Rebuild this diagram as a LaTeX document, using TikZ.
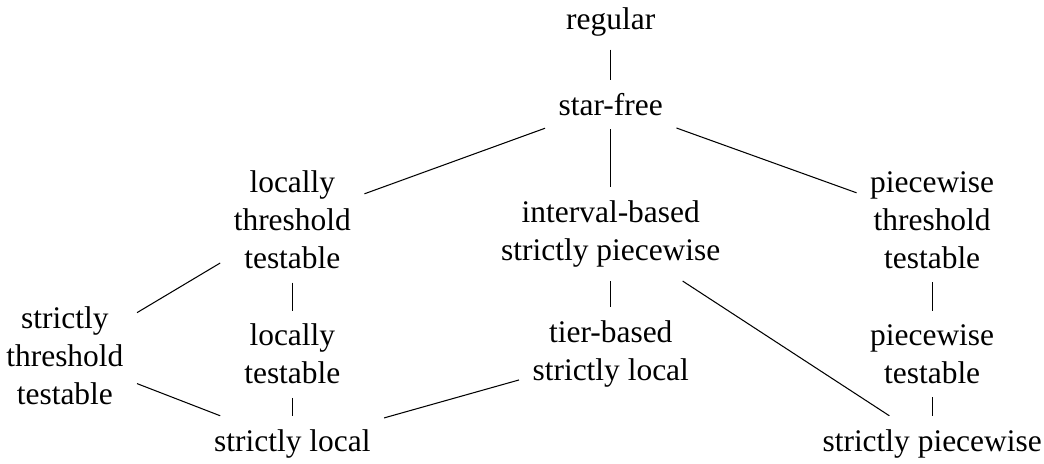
\documentclass[tikz,border=0pt]{standalone}
\usepackage{fontspec}
\setmainfont{Liberation Serif}
\tikzset{cls/.style={align=center, inner sep=5pt, font=\fontsize{12pt}{14.5pt}\selectfont}}
\begin{document}
\begin{tikzpicture}
\useasboundingbox (0,0) rectangle (14,-6.22);
\node[cls] (reg) at (8.19,-0.29) {regular};
\node[cls] (sf) at (8.19,-1.40) {star-free};
\node[cls] (ltt) at (3.92,-2.95) {locally\\threshold\\testable};
\node[cls] (ibsp) at (8.19,-3.14) {interval-based\\strictly piecewise};
\node[cls] (ptt) at (12.50,-2.95) {piecewise\\threshold\\testable};
\node[cls] (stt) at (0.87,-4.77) {strictly\\threshold\\testable};
\node[cls] (lt) at (3.92,-4.75) {locally\\testable};
\node[cls] (tsl) at (8.19,-4.75) {tier-based\\strictly local};
\node[cls] (pt) at (12.50,-4.75) {piecewise\\testable};
\node[cls] (sl) at (3.92,-5.95) {strictly local};
\node[cls] (sp) at (12.50,-5.95) {strictly piecewise};
\draw (reg) -- (sf);
\draw (sf) -- (ltt);
\draw (sf) -- (ibsp);
\draw (sf) -- (ptt);
\draw (ltt) -- (stt);
\draw (ltt) -- (lt);
\draw (stt) -- (sl);
\draw (lt) -- (sl);
\draw (tsl) -- (sl);
\draw (ibsp) -- (tsl);
\draw (ibsp) -- (sp);
\draw (ptt) -- (pt);
\draw (pt) -- (sp);
\end{tikzpicture}
\end{document}
